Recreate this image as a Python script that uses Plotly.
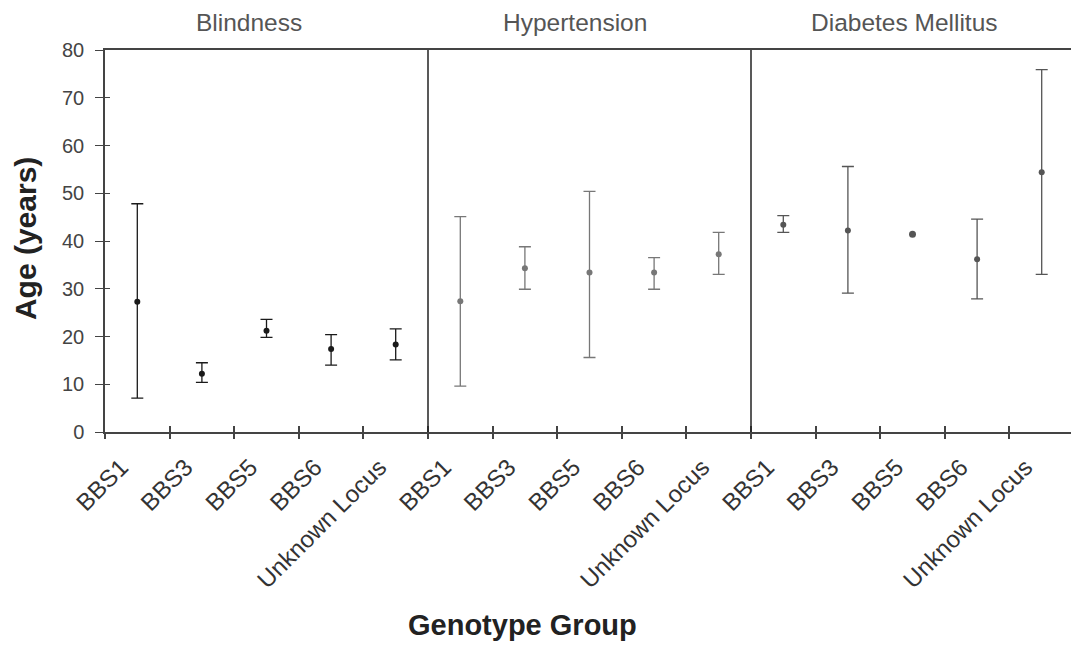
import plotly.graph_objects as go

genotypes = ["BBS1", "BBS3", "BBS5", "BBS6", "Unknown Locus"]
panels = ["Blindness", "Hypertension", "Diabetes Mellitus"]

blind_mean = [27.3, 12.2, 21.2, 17.4, 18.3]
blind_upper = [47.8, 14.5, 23.6, 20.4, 21.6]
blind_lower = [7.1, 10.4, 19.8, 14.0, 15.1]

hyp_mean = [27.4, 34.3, 33.4, 33.4, 37.2]
hyp_upper = [45.1, 38.8, 50.4, 36.5, 41.8]
hyp_lower = [9.6, 29.9, 15.6, 29.9, 33.0]

dm_mean = [43.4, 42.2, 41.4, 36.2, 54.4]
dm_upper = [45.3, 55.6, None, 44.6, 75.9]
dm_lower = [41.8, 29.1, None, 27.9, 33.0]

y_ticks = [0, 10, 20, 30, 40, 50, 60, 70, 80]

series = [
    (blind_mean, blind_upper, blind_lower, "#1a1a1a"),
    (hyp_mean, hyp_upper, hyp_lower, "#777777"),
    (dm_mean, dm_upper, dm_lower, "#555555"),
]

n = len(genotypes)
fig = go.Figure()
all_labels = []
for p, (mean, up, lo, col) in enumerate(series):
    xs = [p * n + i for i in range(n)]
    with_err = [i for i in range(n) if up[i] is not None]
    without_err = [i for i in range(n) if up[i] is None]
    fig.add_trace(go.Scatter(
        x=[xs[i] for i in with_err], y=[mean[i] for i in with_err],
        mode="markers", name=panels[p],
        marker=dict(color=col, size=6, symbol="circle"),
        error_y=dict(type="data", symmetric=False,
                     array=[up[i] - mean[i] for i in with_err],
                     arrayminus=[mean[i] - lo[i] for i in with_err],
                     color=col, thickness=1.3, width=6),
        showlegend=False,
    ))
    if without_err:
        fig.add_trace(go.Scatter(
            x=[xs[i] for i in without_err], y=[mean[i] for i in without_err],
            mode="markers", name=panels[p],
            marker=dict(color=col, size=7, symbol="circle"),
            showlegend=False,
        ))
    all_labels += genotypes

# empty traces so that the overlay axes (inner tick marks) are drawn
fig.add_trace(go.Scatter(x=[], y=[], xaxis="x2", yaxis="y2", showlegend=False, hoverinfo="skip"))
fig.add_trace(go.Scatter(x=[], y=[], xaxis="x3", yaxis="y2", showlegend=False, hoverinfo="skip"))

total = len(all_labels)
label_pos = [k - 0.25 for k in range(total)]
bounds = [k - 0.5 for k in range(total + 1)]
axis_col = "#444444"

common_x = dict(range=[-0.5, total - 0.5], tickmode="array", tickvals=bounds,
                ticklen=6, tickwidth=1.5, tickcolor=axis_col, showticklabels=False,
                showline=False, showgrid=False, zeroline=False, automargin=False)

fig.update_layout(
    width=1079, height=647,
    margin=dict(l=97, r=13, t=42, b=223, autoexpand=False),
    paper_bgcolor="white", plot_bgcolor="white",
    font=dict(family="Liberation Sans, Arial, sans-serif", color="#333333"),
    xaxis=dict(range=[-0.5, total - 0.5], tickmode="array", tickvals=label_pos,
               ticktext=all_labels, ticks="", tickangle=-45,
               tickfont=dict(size=24, color="#333333"), ticklabelstandoff=10,
               showline=True, mirror=True, linecolor=axis_col, linewidth=1.5,
               showgrid=False, zeroline=False, automargin=False),
    xaxis2=dict(overlaying="x", anchor="y2", ticks="outside", **common_x),
    xaxis3=dict(overlaying="x", anchor="y2", ticks="inside", **common_x),
    yaxis=dict(range=[0, 80], tickmode="array", tickvals=y_ticks,
               ticks="outside", ticklen=8, tickwidth=1.3, tickcolor=axis_col,
               tickfont=dict(size=20, color="#444444"), ticklabelstandoff=7,
               showline=True, mirror=True, linecolor=axis_col, linewidth=1.5,
               showgrid=False, zeroline=False, automargin=False),
    yaxis2=dict(range=[0, 80], overlaying="y", anchor="x2", tickmode="array",
                tickvals=y_ticks, ticks="inside", ticklen=5, tickwidth=1.3,
                tickcolor=axis_col, showticklabels=False, showline=False,
                showgrid=False, zeroline=False, automargin=False),
)

# panel dividers
for p in range(1, len(panels)):
    fig.add_shape(type="line", xref="x", yref="y", x0=p * n - 0.5, x1=p * n - 0.5,
                  y0=0, y1=80, line=dict(color="#222222", width=1.5))

# panel titles
title_offsets = [-0.27, -0.22, -0.13]
for p, name in enumerate(panels):
    fig.add_annotation(text=name, xref="x", yref="paper",
                       x=p * n + (n - 1) / 2 + title_offsets[p], y=1.073,
                       showarrow=False, xanchor="center", yanchor="middle",
                       font=dict(size=24.5, color="#555555"))

fig.add_annotation(text="<b>Age (years)</b>", xref="paper", yref="paper",
                   x=(25 - 105) / 969, y=0.505, textangle=-90, showarrow=False,
                   xanchor="center", yanchor="middle",
                   font=dict(size=30, color="#222222"))
fig.add_annotation(text="<b>Genotype Group</b>", xref="paper", yref="paper",
                   x=(522 - 105) / 969, y=(432 - 625) / 382, showarrow=False,
                   xanchor="center", yanchor="middle",
                   font=dict(size=29, color="#222222"))

fig.write_html("out.html")
